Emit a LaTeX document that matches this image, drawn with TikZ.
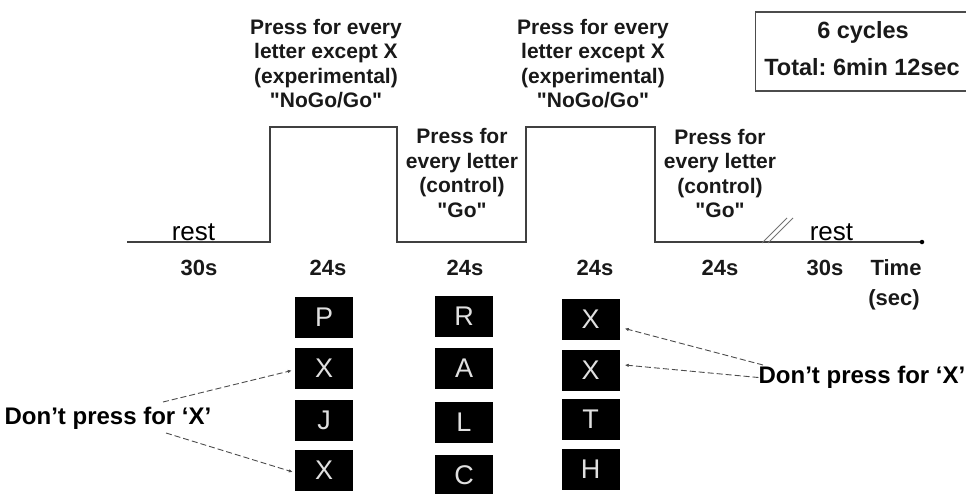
\documentclass[tikz,border=0pt]{standalone}
\usepackage{fontspec}
\setmainfont{Liberation Sans}[Ligatures=TeXOff]
\usetikzlibrary{arrows.meta}
\frenchspacing
\begin{document}
\begin{tikzpicture}[x=1pt,y=-1pt,
  lbl/.style={font=\bfseries\fontsize{21}{24.4}\selectfont, align=center, inner sep=0pt, text=black!90},
  dur/.style={font=\bfseries\fontsize{22}{26}\selectfont, inner sep=0pt, text=black!90},
  boxtxt/.style={font=\bfseries\fontsize{23.5}{28}\selectfont, inner sep=0pt, text=black!90},
  letterbox/.style={fill=black, minimum width=58pt, minimum height=41pt, inner sep=0pt, text=black!12, font=\fontsize{27}{28}\selectfont},
  dont/.style={font=\bfseries\fontsize{24}{28}\selectfont, inner sep=0pt},
  restlbl/.style={font=\fontsize{26}{28}\selectfont, inner sep=0pt, anchor=base},
  pulse/.style={draw=black!75, line width=1.4pt},
  hint/.style={draw=black!70, dash pattern=on 6pt off 3pt, line width=0.9pt, -{Latex[length=4pt,width=3.5pt]}},
]
\useasboundingbox (0,0) rectangle (966,493);

% time axis with the two pulses
\draw[pulse] (127,242) -- (270,242) -- (270,127) -- (397,127) -- (397,242)
  -- (526,242) -- (526,127) -- (655,127) -- (655,242) -- (921,242);
\node[circle, fill=black, inner sep=0pt, minimum size=4.5pt] (axend) at (922,242) {};
% break marks
\draw[black!55, line width=0.8pt] (762,243) -- (787,218);
\draw[black!55, line width=0.8pt] (768,243) -- (793,218);

% rest labels
\node[restlbl] (rest1) at (193.5,240) {rest};
\node[restlbl] (rest2) at (831.5,240) {rest};

% block descriptions
\node[lbl] (exp1) at (326,63.5) {Press for every\\letter except X\\(experimental)\\"NoGo/Go"};
\node[lbl] (exp2) at (593,63.5) {Press for every\\letter except X\\(experimental)\\"NoGo/Go"};
\node[lbl] (ctl1) at (462,173) {Press for\\every letter\\(control)\\"Go"};
\node[lbl] (ctl2) at (720,173.5) {Press for\\every letter\\(control)\\"Go"};

% cycles box
\draw[black!70, line width=1.2pt] (968,12) -- (755.5,12) -- (755.5,91) -- (968,91);
\node[boxtxt] (cyc1) at (863,32) {6 cycles};
\node[boxtxt] (cyc2) at (862,67) {Total: 6min 12sec};

% durations
\node[dur] (d1) at (199,268) {30s};
\node[dur] (d2) at (328,268) {24s};
\node[dur] (d3) at (465,268) {24s};
\node[dur] (d4) at (595,268) {24s};
\node[dur] (d5) at (720,268) {24s};
\node[dur] (d6) at (825,268) {30s};
\node[dur] (tm) at (896,268) {Time};
\node[dur] (tsec) at (894,300) {(sec)};

% letter stimuli
\node[letterbox] (a1) at (324,317.5) {P};
\node[letterbox] (a2) at (324,368.5) {X};
\node[letterbox] (a3) at (324,420) {J};
\node[letterbox] (a4) at (324,470) {X};
\node[letterbox] (b1) at (464,316.5) {R};
\node[letterbox] (b2) at (464,368) {A};
\node[letterbox] (b3) at (464,422) {L};
\node[letterbox] (b4) at (464,475) {C};
\node[letterbox] (c1) at (590.5,319.5) {X};
\node[letterbox] (c2) at (590.5,370.5) {X};
\node[letterbox] (c3) at (590.5,419.5) {T};
\node[letterbox] (c4) at (590.5,469.5) {H};

% don't press labels
\node[dont] (dl) at (108,418) {Don’t press for ‘X’};
\node[dont] (dr) at (862,377.5) {Don’t press for ‘X’};
\coordinate (dlA) at (163,402);
\coordinate (dlB) at (166,433);
\coordinate (drA) at (763,365);
\coordinate (drB) at (dr.west);

\draw[hint] (dlA) -- ([xshift=-3pt,yshift=-2pt]a2.west);
\draw[hint] (dlB) -- ([xshift=-2pt,yshift=-2pt]a4.west);
\draw[hint] (drA) -- ([xshift=5pt,yshift=-9pt]c1.east);
\draw[hint] (drB) -- ([xshift=5pt,yshift=5.5pt]c2.east);
\end{tikzpicture}
\end{document}
